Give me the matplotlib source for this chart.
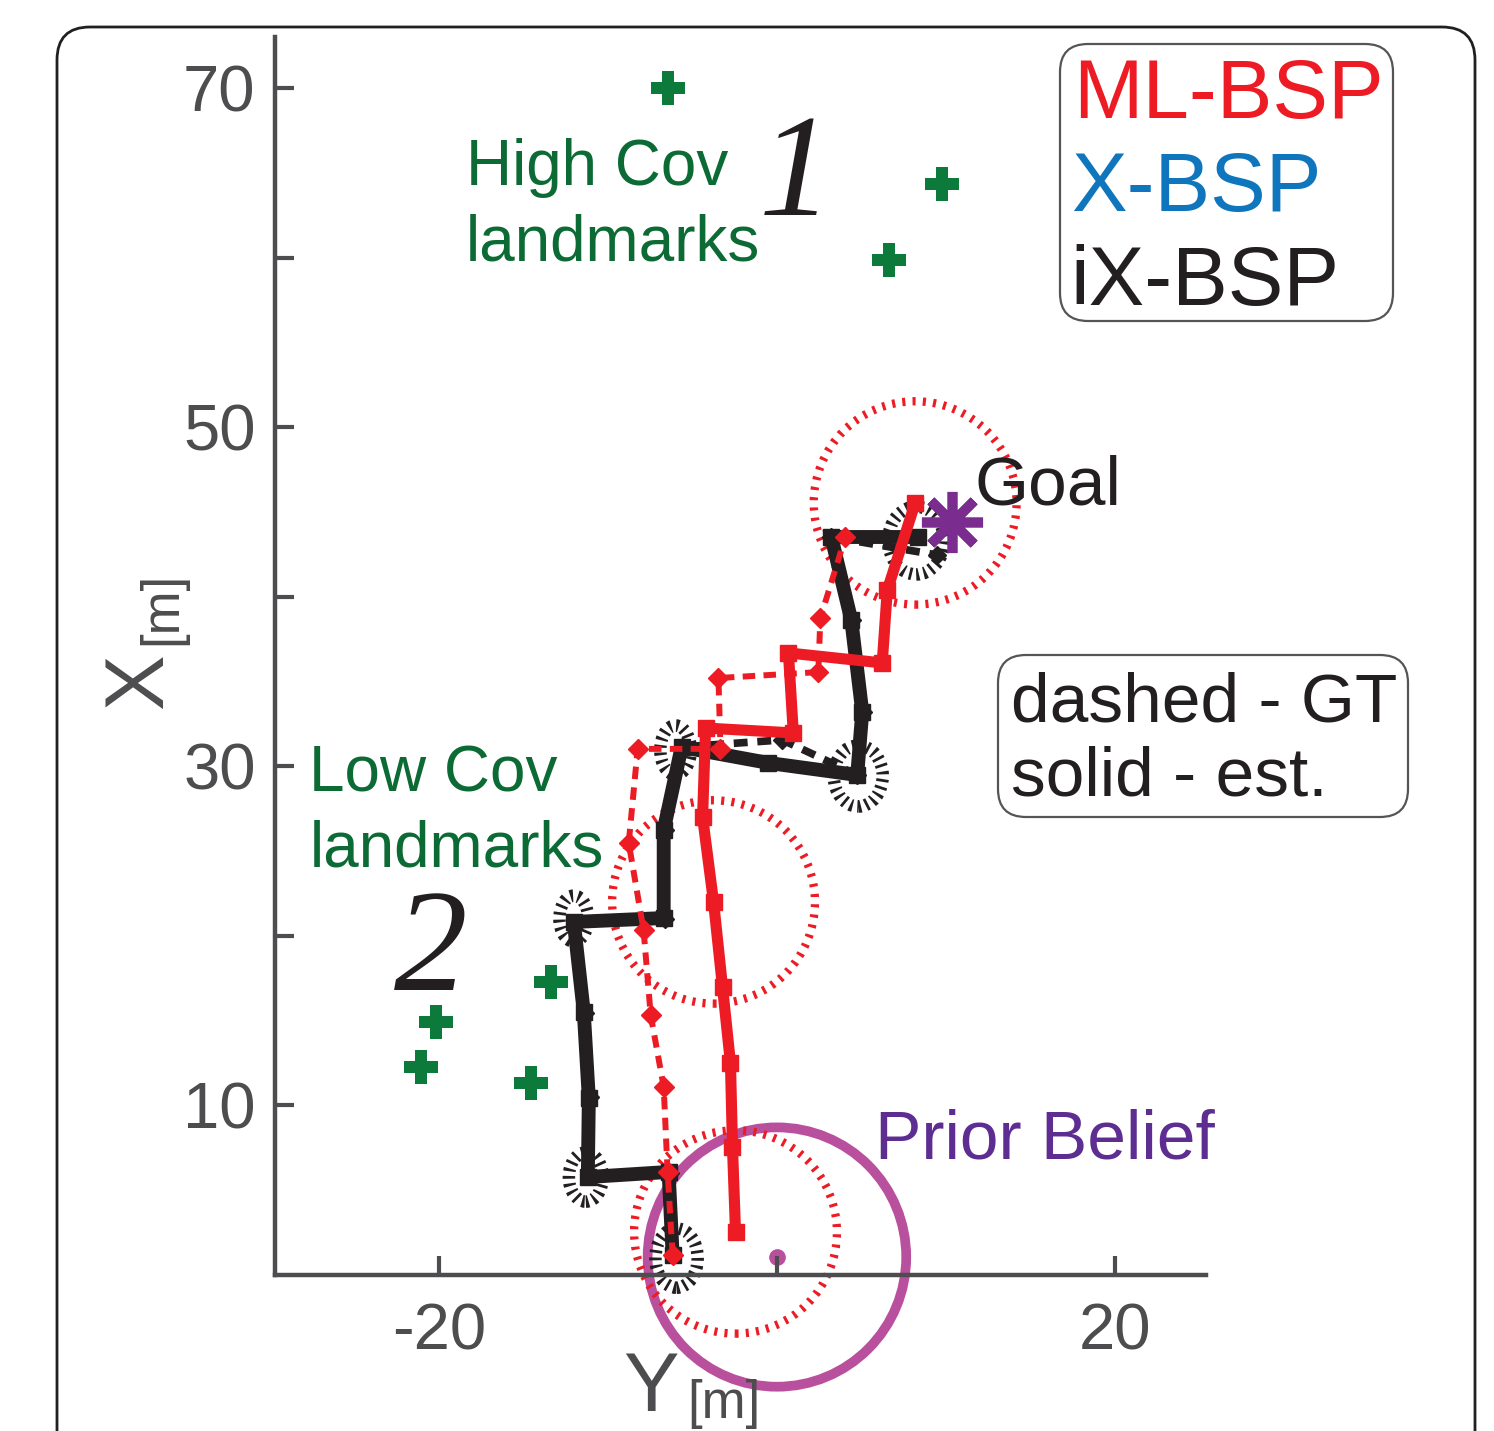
import matplotlib
matplotlib.use("Agg")
import matplotlib.pyplot as plt
from matplotlib.patches import Ellipse, Circle, FancyBboxPatch

plt.rcParams["font.family"] = ["Liberation Sans", "DejaVu Sans"]
plt.rcParams["lines.scale_dashes"] = False

# ---- data (Y [m] horizontal, X [m] vertical) ----
black_est_y = [-6.17, -6.41, -11.19, -11.13, -11.43, -12.02, -6.70, -6.70, -5.64, -0.50, 4.75, 5.05, 4.40, 3.22, 8.36]
black_est_x = [1.15, 6.05, 5.75, 10.41, 15.49, 20.80, 21.03, 26.22, 31.12, 30.18, 29.47, 33.19, 38.61, 43.51, 43.51]

black_gt_y = [-6.17, -6.35, -11.10, -11.05, -11.35, -11.95, -6.65, -6.65, -5.64, 0.32, 4.75, 5.10, 4.45, 3.22, 9.48]
black_gt_x = [1.15, 6.00, 5.80, 10.45, 15.45, 20.75, 21.00, 26.20, 31.12, 31.54, 29.47, 33.20, 38.60, 43.51, 42.45]

red_est_y = [-2.45, -2.63, -2.75, -3.22, -3.75, -4.40, -4.22, 0.97, 0.68, 6.23, 6.53, 8.18]
red_est_x = [2.51, 7.52, 12.48, 16.96, 21.98, 26.99, 32.24, 31.95, 36.67, 36.08, 40.38, 45.52]

red_gt_y = [-6.17, -6.47, -6.70, -7.47, -7.89, -8.77, -8.24, -3.34, -3.46, 2.45, 2.57, 4.05]
red_gt_x = [1.15, 6.05, 11.06, 15.31, 20.32, 25.46, 31.01, 31.01, 35.19, 35.54, 38.73, 43.51]

# red covariance circles at ML-BSP nodes (index into red_est), radius
red_cov_idx = [0, 4, 11]
red_cov_r = 6.0

# black covariance ellipses: centre y, centre x, width, height
cov_y = [-5.94, -11.31, -12.02, -6.00, 4.81, 8.24]
cov_x = [0.97, 5.75, 21.0, 30.94, 29.41, 43.3]
cov_w = [2.5, 2.0, 1.7, 1.8, 2.9, 3.3]
cov_h = [3.5, 2.9, 2.7, 2.9, 3.6, 4.0]

landmark_y = [-6.47, 9.77, 6.64, -13.38, -20.17, -21.06, -14.56]
landmark_x = [70.0, 64.34, 59.85, 17.26, 14.90, 12.24, 11.30]

goal_y, goal_x = 10.37, 44.4
prior_y, prior_x, prior_r = 0.0, 1.03, 7.65

yticks = [10, 20, 30, 40, 50, 60, 70]
ytick_labels = ["10", "", "30", "", "50", "", "70"]
xticks = [-20, 0, 20]
xtick_labels = ["-20", "", "20"]

RED = "#ED1C24"
BLUE = "#0F75BC"
BLACK = "#231F20"
GREEN_MK = "#0B7A3B"
GREEN_TXT = "#0C6B35"
GOAL_C = "#7A2D8F"
PRIOR_C = "#B9509D"
PRIOR_TXT = "#5E2D91"
GRAY = "#4D4D4F"

W, H = 1494, 1431
fig = plt.figure(figsize=(W / 100, H / 100), dpi=100)

# axes placement in pixels
x0, x1 = -29.7, 25.4
y0, y1 = 0, 73
ppu_x, ppu_y = 16.9, 16.95
ax_left, ax_bottom = 275, 1274.5
ax = fig.add_axes([ax_left / W, 1 - ax_bottom / H,
                   (x1 - x0) * ppu_x / W, (y1 - y0) * ppu_y / H])
ax.set_xlim(x0, x1)
ax.set_ylim(y0, y1)
for s in ["top", "right"]:
    ax.spines[s].set_visible(False)
for s in ["left", "bottom"]:
    ax.spines[s].set_color(GRAY)
    ax.spines[s].set_linewidth(3.2)
ax.set_xticks(xticks)
ax.set_xticklabels(xtick_labels)
ax.set_yticks(yticks)
ax.set_yticklabels(ytick_labels)
ax.tick_params(direction="in", length=14, width=3, color=GRAY,
               labelcolor=GRAY, labelsize=47)
ax.tick_params(axis="y", pad=14)
ax.tick_params(axis="x", pad=20)

# prior belief
ax.add_patch(Circle((prior_y, prior_x), prior_r, fill=False, ec=PRIOR_C,
                    lw=7, zorder=1, clip_on=False))
ax.plot([prior_y], [prior_x], "o", color=PRIOR_C, ms=11, zorder=1, clip_on=False)

# covariance
for i in red_cov_idx:
    ax.add_patch(Ellipse((red_est_y[i], red_est_x[i]), 2 * red_cov_r, 2 * red_cov_r,
                         fill=False, ec=RED, lw=6, ls=(0, (2.2, 5.2)),
                         capstyle="butt", zorder=2, clip_on=False))
for cy, cx, w, h in zip(cov_y, cov_x, cov_w, cov_h):
    ax.add_patch(Ellipse((cy, cx), w, h, fill=False, ec=BLACK, lw=9,
                         ls=(0, (2.0, 3.4)), capstyle="butt", zorder=2, clip_on=False))

# trajectories
ax.plot(black_est_y, black_est_x, "-", color=BLACK, lw=10, marker="s", ms=11,
        solid_joinstyle="miter", zorder=3, clip_on=False)
ax.plot(black_gt_y, black_gt_x, "--", color=BLACK, lw=5.5, dashes=(10, 7),
        marker="D", ms=9, zorder=4, clip_on=False)
ax.plot(red_est_y, red_est_x, "-", color=RED, lw=8, marker="s", ms=11,
        solid_joinstyle="miter", zorder=5, clip_on=False)
ax.plot(red_gt_y, red_gt_x, "--", color=RED, lw=4.3, dashes=(9, 6),
        marker="D", ms=10, zorder=6, clip_on=False)

# landmarks and goal
ax.plot(landmark_y, landmark_x, "P", color=GREEN_MK, ms=25, mew=0, ls="none",
        zorder=7, clip_on=False)
ax.plot([goal_y], [goal_x], marker=(8, 2, 0), color=GOAL_C, ms=44, mew=7,
        ls="none", zorder=8, clip_on=False)

# annotations
ax.text(-18.40, 64.27, "High Cov", color=GREEN_TXT, fontsize=46, va="baseline")
ax.text(-18.40, 59.85, "landmarks", color=GREEN_TXT, fontsize=46, va="baseline")
ax.text(-27.67, 28.47, "Low Cov", color=GREEN_TXT, fontsize=46, va="baseline")
ax.text(-27.67, 24.10, "landmarks", color=GREEN_TXT, fontsize=46, va="baseline")
ax.text(1.09, 62.5, "1", color=BLACK, fontsize=106, va="baseline", ha="center",
        family="Liberation Serif", style="italic")
ax.text(-20.47, 16.78, "2", color=BLACK, fontsize=106, va="baseline", ha="center",
        family="Liberation Serif", style="italic")
ax.text(11.72, 45.40, "Goal", color=BLACK, fontsize=50, va="baseline")
ax.text(5.82, 6.87, "Prior Belief", color=PRIOR_TXT, fontsize=50, va="baseline")

# figure-level decorations in pixel units
tr = fig.dpi_scale_trans


def px_box(left, top, right, bottom, rad, lw, ec):
    fig.patches.append(FancyBboxPatch(
        (left / 100, (H - bottom) / 100), (right - left) / 100, (bottom - top) / 100,
        boxstyle=f"round,pad=0,rounding_size={rad / 100}",
        fc="none", ec=ec, lw=lw, transform=tr, figure=fig))


def px_text(x, y, s, **kw):
    fig.text(x / 100, (H - y) / 100, s, transform=tr, **kw)


px_box(57, 27, 1475, 1470, 33, 2.0, BLACK)
px_box(1060, 44, 1393, 321, 28, 1.6, "#555555")
px_box(998, 655, 1408, 817, 28, 1.6, "#555555")

px_text(1073, 118, "ML-BSP", color=RED, fontsize=60, va="baseline")
px_text(1071, 211, "X-BSP", color=BLUE, fontsize=60, va="baseline")
px_text(1070, 305, "iX-BSP", color=BLACK, fontsize=60, va="baseline")
px_text(1011, 722, "dashed - GT", color=BLACK, fontsize=50, va="baseline")
px_text(1011, 795, "solid - est.", color=BLACK, fontsize=50, va="baseline")

px_text(162, 681, "X", color=GRAY, fontsize=60, rotation=90, rotation_mode="anchor",
        ha="center", va="baseline")
px_text(176, 608, "[m]", color=GRAY, fontsize=38, rotation=90, rotation_mode="anchor",
        ha="center", va="baseline")
px_text(651, 1411, "Y", color=GRAY, fontsize=60, ha="center", va="baseline")
px_text(687, 1418, "[m]", color=GRAY, fontsize=38, ha="left", va="baseline")

fig.savefig("out.png", dpi=100, facecolor="white")
